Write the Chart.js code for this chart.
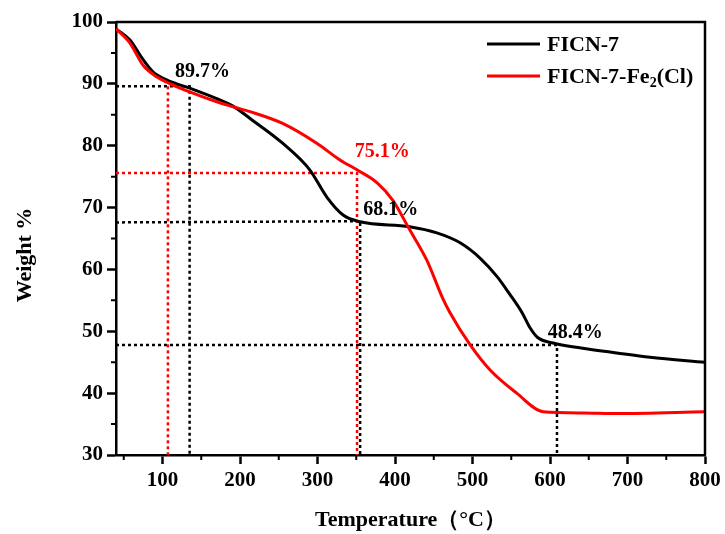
<!DOCTYPE html>
<html>
<head>
<meta charset="utf-8">
<script src="https://cdn.jsdelivr.net/npm/chart.js@4"></script>
<style>
  html, body { margin: 0; padding: 0; background: #fff; }
  #wrap { width: 725px; height: 534px; }
</style>
</head>
<body>
<div id="wrap"><canvas id="tga"></canvas></div>
<script>
// TGA curves
const ficnTemp = [40, 58, 75, 88, 106, 135, 170, 191, 213, 255, 290, 312, 333, 355, 419, 454, 484, 510, 532, 548, 564, 574, 584, 604, 640, 686, 729, 800];
const ficnWeight = [98.9, 97.1, 93.9, 91.9, 90.6, 89.3, 87.6, 86.4, 84.4, 80.4, 76.1, 71.7, 68.8, 67.7, 66.9, 65.9, 64.3, 61.8, 58.8, 56.0, 53.0, 50.6, 49.0, 48.1, 47.3, 46.5, 45.8, 45.0];
const feTemp = [40, 58, 75, 93, 110, 135, 170, 191, 213, 255, 299, 329, 351, 377, 397, 419, 441, 461, 471, 497, 523, 557, 591, 643, 686, 800];
const feWeight = [98.9, 96.6, 93.0, 91.1, 90.0, 88.7, 87.1, 86.3, 85.5, 83.6, 80.4, 77.7, 76.1, 74.0, 71.2, 66.4, 61.5, 55.5, 53.0, 47.8, 43.7, 40.0, 37.0, 36.8, 36.7, 37.0];

const seriesNames = ["FICN-7", "FICN-7-Fe\u2082(Cl)"];
const seriesColors = ["#000000", "#ff0000"];

const xTicks = [100, 200, 300, 400, 500, 600, 700, 800];
const xMinor = [50, 150, 250, 350, 450, 550, 650, 750];
const yMinor = [35, 45, 55, 65, 75, 85, 95];

// dotted guide lines (temperature, weight)
const guideA_T = [40, 135, 135];
const guideA_W = [89.6, 89.6, 30];
const guideB_T = [107, 107];
const guideB_W = [89.6, 30];
const guideC_T = [40, 351, 351];
const guideC_W = [75.6, 75.6, 30];
const guideD_T = [40, 355, 355];
const guideD_W = [67.6, 67.8, 30];
const guideE_T = [40, 609, 609];
const guideE_W = [47.8, 47.8, 30];

const noteText = ["89.7%", "75.1%", "68.1%", "48.4%"];
const noteT = [116, 348, 359, 597];
const noteW = [91.9, 79.0, 69.6, 49.7];
const noteColor = ["#000000", "#ff0000", "#000000", "#000000"];

const serif = "'Liberation Serif', 'Times New Roman', serif";

function pts(t, w) {
  return t.map((v, i) => ({ x: v, y: w[i] }));
}

function guide(t, w, color) {
  return {
    data: pts(t, w),
    borderColor: color,
    borderWidth: 2.5,
    borderDash: [3, 3],
    pointRadius: 0,
    tension: 0,
    fill: false,
    order: 2
  };
}

// draws text where unicode subscript digits get lowered & shrunk
function drawSubText(ctx, text, x, y, size) {
  let cx = x;
  for (const ch of text) {
    const code = ch.charCodeAt(0);
    if (code >= 0x2080 && code <= 0x2089) {
      ctx.font = "bold " + Math.round(size * 0.62) + "px " + serif;
      const d = String(code - 0x2080);
      ctx.fillText(d, cx, y + size * 0.28);
      cx += ctx.measureText(d).width;
    } else {
      ctx.font = "bold " + size + "px " + serif;
      ctx.fillText(ch, cx, y);
      cx += ctx.measureText(ch).width;
    }
  }
}

const extras = {
  id: "extras",
  afterDraw(chart) {
    const ctx = chart.ctx;
    const a = chart.chartArea;
    const xs = chart.scales.x, ys = chart.scales.y;
    ctx.save();

    // top and right frame
    ctx.strokeStyle = "#000";
    ctx.lineWidth = 2.5;
    ctx.beginPath();
    ctx.moveTo(a.left, a.top);
    ctx.lineTo(a.right, a.top);
    ctx.lineTo(a.right, a.bottom);
    ctx.stroke();

    // minor ticks
    ctx.lineWidth = 2;
    ctx.beginPath();
    xMinor.forEach(v => {
      const px = xs.getPixelForValue(v);
      ctx.moveTo(px, a.bottom);
      ctx.lineTo(px, a.bottom + 5);
    });
    yMinor.forEach(v => {
      const py = ys.getPixelForValue(v);
      ctx.moveTo(a.left, py);
      ctx.lineTo(a.left - 5, py);
    });
    ctx.stroke();

    // y axis title
    ctx.save();
    ctx.translate(25, 255);
    ctx.rotate(-Math.PI / 2);
    ctx.fillStyle = "#000";
    ctx.textAlign = "center";
    ctx.textBaseline = "middle";
    ctx.font = "bold 22px " + serif;
    ctx.fillText("Weight %", 0, 0);
    ctx.restore();

    // value notes
    ctx.textBaseline = "middle";
    ctx.textAlign = "left";
    ctx.font = "bold 20px " + serif;
    noteText.forEach((s, i) => {
      ctx.fillStyle = noteColor[i];
      ctx.fillText(s, xs.getPixelForValue(noteT[i]), ys.getPixelForValue(noteW[i]));
    });

    // legend
    const lx = 487, ly = 44, gap = 32;
    seriesNames.forEach((name, i) => {
      const y = ly + i * gap;
      ctx.strokeStyle = seriesColors[i];
      ctx.lineWidth = 3;
      ctx.beginPath();
      ctx.moveTo(lx, y);
      ctx.lineTo(lx + 53, y);
      ctx.stroke();
      ctx.fillStyle = "#000";
      ctx.textBaseline = "middle";
      drawSubText(ctx, name, lx + 60, y + 1, 22);
    });
    ctx.restore();
  }
};

new Chart(document.getElementById("tga"), {
  type: "line",
  data: {
    datasets: [
      {
        label: seriesNames[0],
        data: pts(ficnTemp, ficnWeight),
        borderColor: seriesColors[0],
        borderWidth: 3,
        pointRadius: 0,
        cubicInterpolationMode: "monotone",
        fill: false,
        order: 1
      },
      {
        label: seriesNames[1],
        data: pts(feTemp, feWeight),
        borderColor: seriesColors[1],
        borderWidth: 3,
        pointRadius: 0,
        cubicInterpolationMode: "monotone",
        fill: false,
        order: 0
      },
      guide(guideA_T, guideA_W, "#000000"),
      guide(guideB_T, guideB_W, "#ff0000"),
      guide(guideC_T, guideC_W, "#ff0000"),
      guide(guideD_T, guideD_W, "#000000"),
      guide(guideE_T, guideE_W, "#000000")
    ]
  },
  options: {
    responsive: true,
    maintainAspectRatio: false,
    animation: false,
    events: [],
    layout: { padding: { top: 22, right: 20, left: 0, bottom: 0 } },
    plugins: { legend: { display: false }, tooltip: { enabled: false } },
    scales: {
      x: {
        type: "linear",
        min: 40,
        max: 800,
        afterBuildTicks: s => { s.ticks = xTicks.map(v => ({ value: v })); },
        afterFit: s => { s.height = 79; },
        grid: { drawOnChartArea: false, tickLength: 9, tickWidth: 2.5, tickColor: "#000" },
        border: { display: true, color: "#000", width: 2.5 },
        ticks: { color: "#000", font: { family: serif, size: 21, weight: "bold" }, padding: 4, maxRotation: 0, autoSkip: false },
        title: { display: true, text: "Temperature（°C）", color: "#000", font: { family: serif, size: 22, weight: "bold" }, padding: { top: 10, bottom: 0 } }
      },
      y: {
        min: 30,
        max: 100,
        ticks: { stepSize: 10, color: "#000", font: { family: serif, size: 21, weight: "bold" }, padding: 4 },
        afterFit: s => { s.width = 116; },
        grid: { drawOnChartArea: false, tickLength: 9, tickWidth: 2.5, tickColor: "#000" },
        border: { display: true, color: "#000", width: 2.5 },
        title: { display: false }
      }
    }
  },
  plugins: [extras]
});
</script>
</body>
</html>
